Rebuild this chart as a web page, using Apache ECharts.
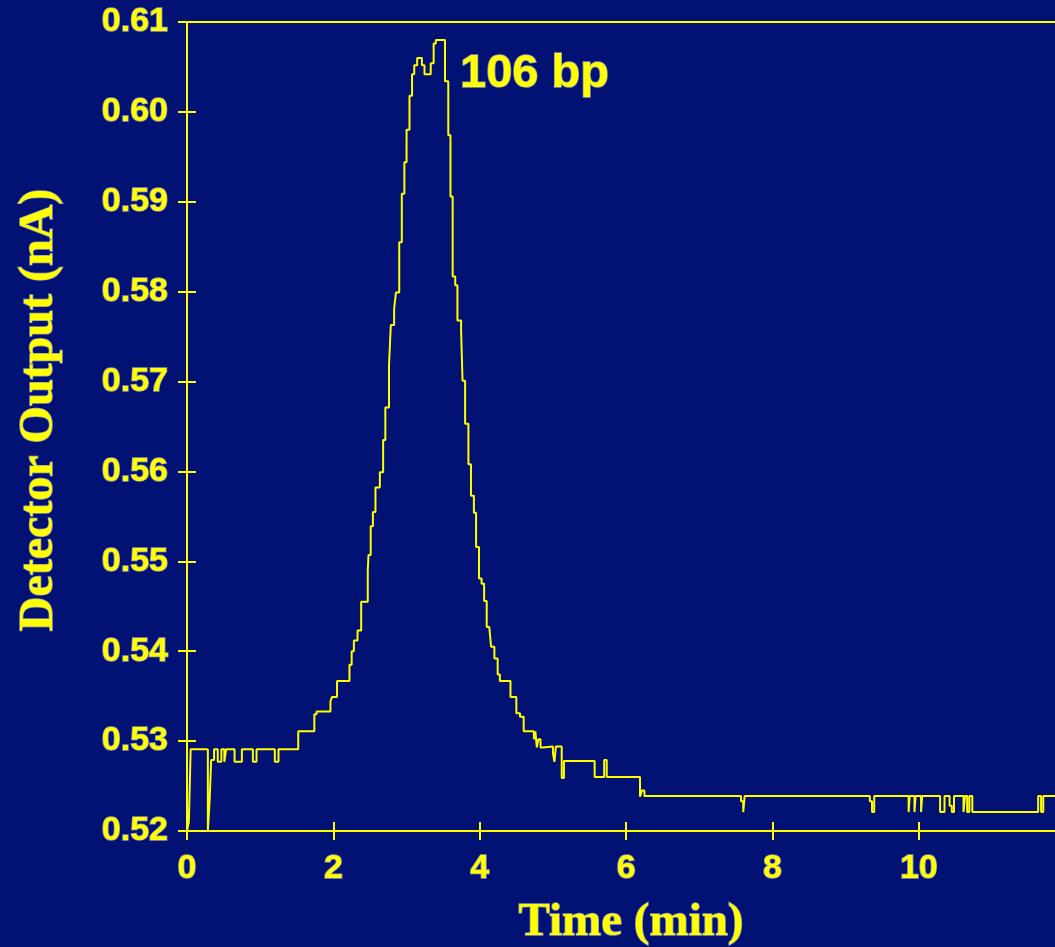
<!DOCTYPE html>
<html>
<head>
<meta charset="utf-8">
<script src="https://cdn.jsdelivr.net/npm/echarts@6/dist/echarts.min.js"></script>
<style>
html,body{margin:0;padding:0;background:#021174;overflow:hidden;}
#chart{width:1055px;height:947px;}
</style>
</head>
<body>
<div id="chart"></div>
<script>
// ---- data ----
const xTicks = [0, 2, 4, 6, 8, 10];
const xVisibleMax = 11.86;   // the reference is cropped at the right edge
const yTicks = [0.52, 0.53, 0.54, 0.55, 0.56, 0.57, 0.58, 0.59, 0.60, 0.61];
const xTitle = 'Time (min)';
const yTitle = 'Detector Output (nA)';
const peakLabel = '106 bp';
const times = [
  0, 0.025, 0.05, 0.285, 0.31, 0.33, 0.37, 0.42, 0.47, 0.51, 0.535, 0.65, 0.75, 0.90, 0.95, 1.20, 1.25,
  1.52, 1.74, 1.77, 1.96, 1.98, 2.05, 2.22, 2.25, 2.28, 2.33, 2.38, 2.47, 2.48, 2.51, 2.54, 2.575, 2.635,
  2.68, 2.71, 2.76, 2.785, 2.83, 2.855, 2.90, 2.935, 2.97, 3.00, 3.04, 3.075, 3.105, 3.145, 3.21, 3.245,
  3.33, 3.37, 3.40, 3.525, 3.57, 3.60, 3.63, 3.665, 3.695, 3.745, 3.765, 3.80, 3.845, 3.88, 3.92, 3.95,
  3.99, 4.025, 4.06, 4.095, 4.13, 4.155, 4.20, 4.245, 4.275, 4.42, 4.50, 4.55, 4.60, 4.74, 4.76, 4.78,
  4.80, 4.83, 4.86, 5.00, 5.02, 5.04, 5.12, 5.15, 5.57, 5.70, 5.735, 6.19, 6.215, 6.25, 7.57, 7.60, 7.62,
  9.33, 9.36, 9.39, 9.86, 9.875, 9.94, 9.955, 10.03, 10.045, 10.29, 10.35, 10.42, 10.45, 10.48, 10.61,
  10.63, 10.66, 10.69, 10.73, 11.63, 11.67, 11.70, 11.95
];
const output = [
  0.5200, 0.5210, 0.5291, 0.5200, 0.5235, 0.5279, 0.5291, 0.5277, 0.5291, 0.5277, 0.5291, 0.5277, 0.5291, 0.5277, 0.5291, 0.5277, 0.5291,
  0.5311, 0.5330, 0.5333, 0.5344, 0.5349, 0.5367, 0.5385, 0.5400, 0.5412, 0.5423, 0.5455, 0.5490, 0.5507, 0.5539, 0.5555, 0.5582, 0.5599,
  0.5635, 0.5671, 0.5718, 0.5763, 0.5781, 0.5799, 0.5855, 0.5909, 0.5944, 0.5980, 0.6018, 0.6042, 0.6052, 0.6060, 0.6052, 0.6042,
  0.6054, 0.6076, 0.6080, 0.6034, 0.5974, 0.5906, 0.5817, 0.5807, 0.5768, 0.5757, 0.5701, 0.5653, 0.5608, 0.5573, 0.5554, 0.5516,
  0.5481, 0.5475, 0.5456, 0.5427, 0.5425, 0.5405, 0.5392, 0.5374, 0.5367, 0.5349, 0.5331, 0.5327, 0.5311, 0.5302, 0.5311, 0.5293,
  0.5302, 0.5293, 0.5294, 0.5287, 0.5277, 0.5294, 0.5259, 0.5278, 0.5260, 0.5279, 0.5260, 0.5238, 0.5245, 0.5239, 0.5233, 0.5221, 0.5239,
  0.5233, 0.5221, 0.5239, 0.5221, 0.5239, 0.5221, 0.5239, 0.5221, 0.5239, 0.5221, 0.5239, 0.5228, 0.5221, 0.5239, 0.5221,
  0.5239, 0.5221, 0.5239, 0.5221, 0.5239, 0.5221, 0.5239, 0.5239
];
// ---------------------------------------

const YEL = '#ffff00';
const HALO = 'rgba(255,255,225,0.55)';
const seriesData = times.map((t, i) => [t, output[i]]);
const gridRect = { left: 187, right: 0, top: 22, bottom: 116, containLabel: false, outerBoundsMode: 'none' };
const xMin = xTicks[0], xStep = xTicks[1] - xTicks[0];
const yMin = yTicks[0], yMax = yTicks[yTicks.length - 1];

const chart = echarts.init(document.getElementById('chart'), null, { renderer: 'canvas' });
chart.setOption({
  backgroundColor: '#021174',
  animation: false,
  grid: [
    Object.assign({ show: false }, gridRect),
    Object.assign({ show: false }, gridRect)
  ],
  xAxis: [
    {
      gridIndex: 0, type: 'value', min: xMin, max: xVisibleMax, interval: xStep, position: 'bottom',
      axisLine: { show: true, onZero: false, lineStyle: { color: YEL, width: 2 } },
      axisTick: { show: true, inside: false, length: 9, customValues: xTicks, lineStyle: { color: YEL, width: 2 } },
      splitLine: { show: false },
      axisLabel: {
        show: true, margin: 21, color: YEL, fontFamily: 'Liberation Sans', fontWeight: 'bold', fontSize: 34,
        textBorderColor: HALO, textBorderWidth: 1.5, customValues: xTicks,
        formatter: v => String(v)
      }
    },
    {
      gridIndex: 1, type: 'value', min: xMin, max: xVisibleMax, interval: xStep, position: 'bottom',
      axisLine: { show: false, onZero: false },
      axisTick: { show: true, inside: true, length: 9, customValues: xTicks, lineStyle: { color: YEL, width: 2 } },
      splitLine: { show: false }, axisLabel: { show: false }
    },
    {
      gridIndex: 0, type: 'value', min: xMin, max: xVisibleMax, interval: xStep, position: 'top',
      axisLine: { show: true, onZero: false, lineStyle: { color: YEL, width: 2 } },
      axisTick: { show: false }, splitLine: { show: false }, axisLabel: { show: false }
    }
  ],
  yAxis: [
    {
      gridIndex: 0, type: 'value', min: yMin, max: yMax, interval: 0.01, position: 'left',
      axisLine: { show: true, onZero: false, lineStyle: { color: YEL, width: 2 } },
      axisTick: { show: true, inside: false, length: 9, lineStyle: { color: YEL, width: 2 } },
      splitLine: { show: false },
      axisLabel: {
        show: true, margin: 19, color: YEL, fontFamily: 'Liberation Sans', fontWeight: 'bold', fontSize: 34,
        textBorderColor: HALO, textBorderWidth: 1.5,
        formatter: v => v.toFixed(2)
      }
    },
    {
      gridIndex: 1, type: 'value', min: yMin, max: yMax, interval: 0.01, position: 'left',
      axisLine: { show: false, onZero: false },
      axisTick: { show: true, inside: true, length: 9, lineStyle: { color: YEL, width: 2 } },
      splitLine: { show: false }, axisLabel: { show: false }
    }
  ],
  series: [{
    type: 'line', xAxisIndex: 0, yAxisIndex: 0, step: 'end', data: seriesData,
    showSymbol: false, symbol: 'none', clip: true,
    lineStyle: { color: YEL, width: 2 }
  }],
  graphic: [
    {
      type: 'text', x: 460, y: 74,
      style: {
        text: peakLabel, fill: YEL, font: 'bold 47px "Liberation Sans"',
        align: 'left', verticalAlign: 'middle', stroke: HALO, lineWidth: 1.5
      }
    },
    {
      type: 'text', x: 40, y: 410, rotation: Math.PI / 2,
      style: {
        text: yTitle, fill: YEL, font: 'bold 48px "Liberation Serif"',
        align: 'center', verticalAlign: 'middle', stroke: HALO, lineWidth: 1.5
      }
    },
    {
      type: 'text', x: 631, y: 899,
      style: {
        text: xTitle, fill: YEL, font: 'bold 47px "Liberation Serif"',
        align: 'center', verticalAlign: 'top', stroke: HALO, lineWidth: 1.5
      }
    }
  ]
});
</script>
</body>
</html>
